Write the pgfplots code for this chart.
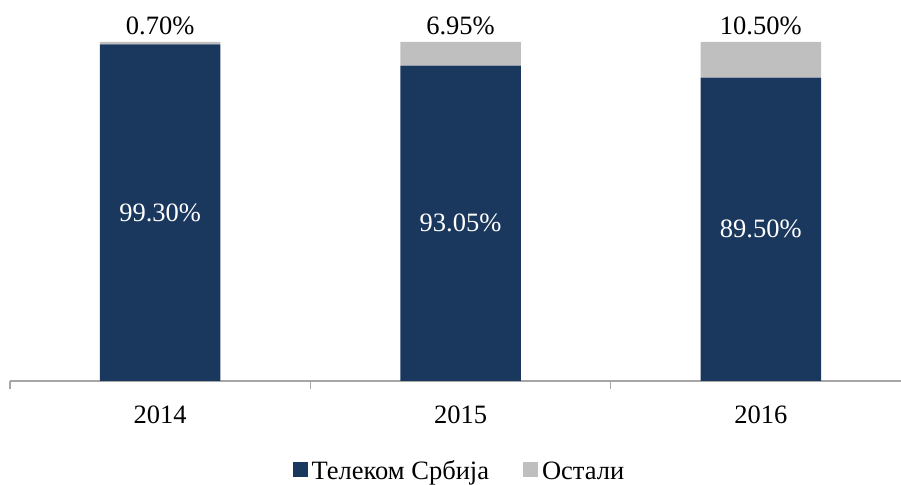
\documentclass[border=0pt]{standalone}
\usepackage{pgfplots}
\pgfplotsset{compat=1.18}
\usepackage{fontspec}
\setmainfont{Liberation Serif}
\definecolor{navy}{HTML}{1A375E}
\definecolor{lgray}{HTML}{BFBFBF}
\definecolor{axgray}{HTML}{A6A6A6}
\newcommand{\chartfont}{\fontsize{26.5}{31}\selectfont}
\begin{document}
\begin{tikzpicture}
\useasboundingbox (0pt,0pt) rectangle (901pt,484pt);
\begin{axis}[
  at={(10pt,103pt)}, anchor=south west,
  scale only axis, width=901pt, height=339pt,
  xmin=-0.5, xmax=2.5, ymin=0, ymax=100,
  clip=false, enlargelimits=false,
  axis x line*=bottom, axis y line=none,
  x axis line style={axgray, line width=1.5pt},
  xtick={0,1,2}, xticklabels={2014,2015,2016},
  major tick length=0pt,
  extra x ticks={-0.5,0.5,1.5,2.5}, extra x tick labels={},
  extra x tick style={major tick length=8pt, tick align=outside, tick style={axgray, line width=1.5pt}},
  xticklabel style={anchor=center, yshift=-34pt},
  /pgf/number format/assume math mode=true,
  font=\chartfont,
  tick label style={font=\chartfont},
  ybar stacked, bar width=120.5pt,
  legend columns=2,
  legend style={at={(0.5,-0.2655)}, anchor=center, draw=none, font=\chartfont,
    /tikz/every even column/.append style={column sep=30pt},
    nodes={inner xsep=4pt}},
  legend image code/.code={\fill[#1] (0pt,-6pt) rectangle (15pt,9pt);},
]
\addplot[fill=navy, draw=none,
  point meta=rawy,
  nodes near coords={\pgfmathprintnumber[fixed,fixed zerofill,precision=2]{\pgfplotspointmeta}\%},
  every node near coord/.append style={white, anchor=center, font=\chartfont},
] coordinates {(0,99.30) (1,93.05) (2,89.50)};
\addlegendentry{Телеком Србија}
\addplot[fill=lgray, draw=none,
  point meta=rawy,
  visualization depends on={rawy \as \myy},
  nodes near coords={\pgfmathprintnumber[fixed,fixed zerofill,precision=2]{\pgfplotspointmeta}\%},
  every node near coord/.append style={black, anchor=center, font=\chartfont,
    shift={(axis direction cs:0,\myy/2)}, yshift=16.5pt},
] coordinates {(0,0.70) (1,6.95) (2,10.50)};
\addlegendentry{Остали}
\end{axis}
\end{tikzpicture}
\end{document}
